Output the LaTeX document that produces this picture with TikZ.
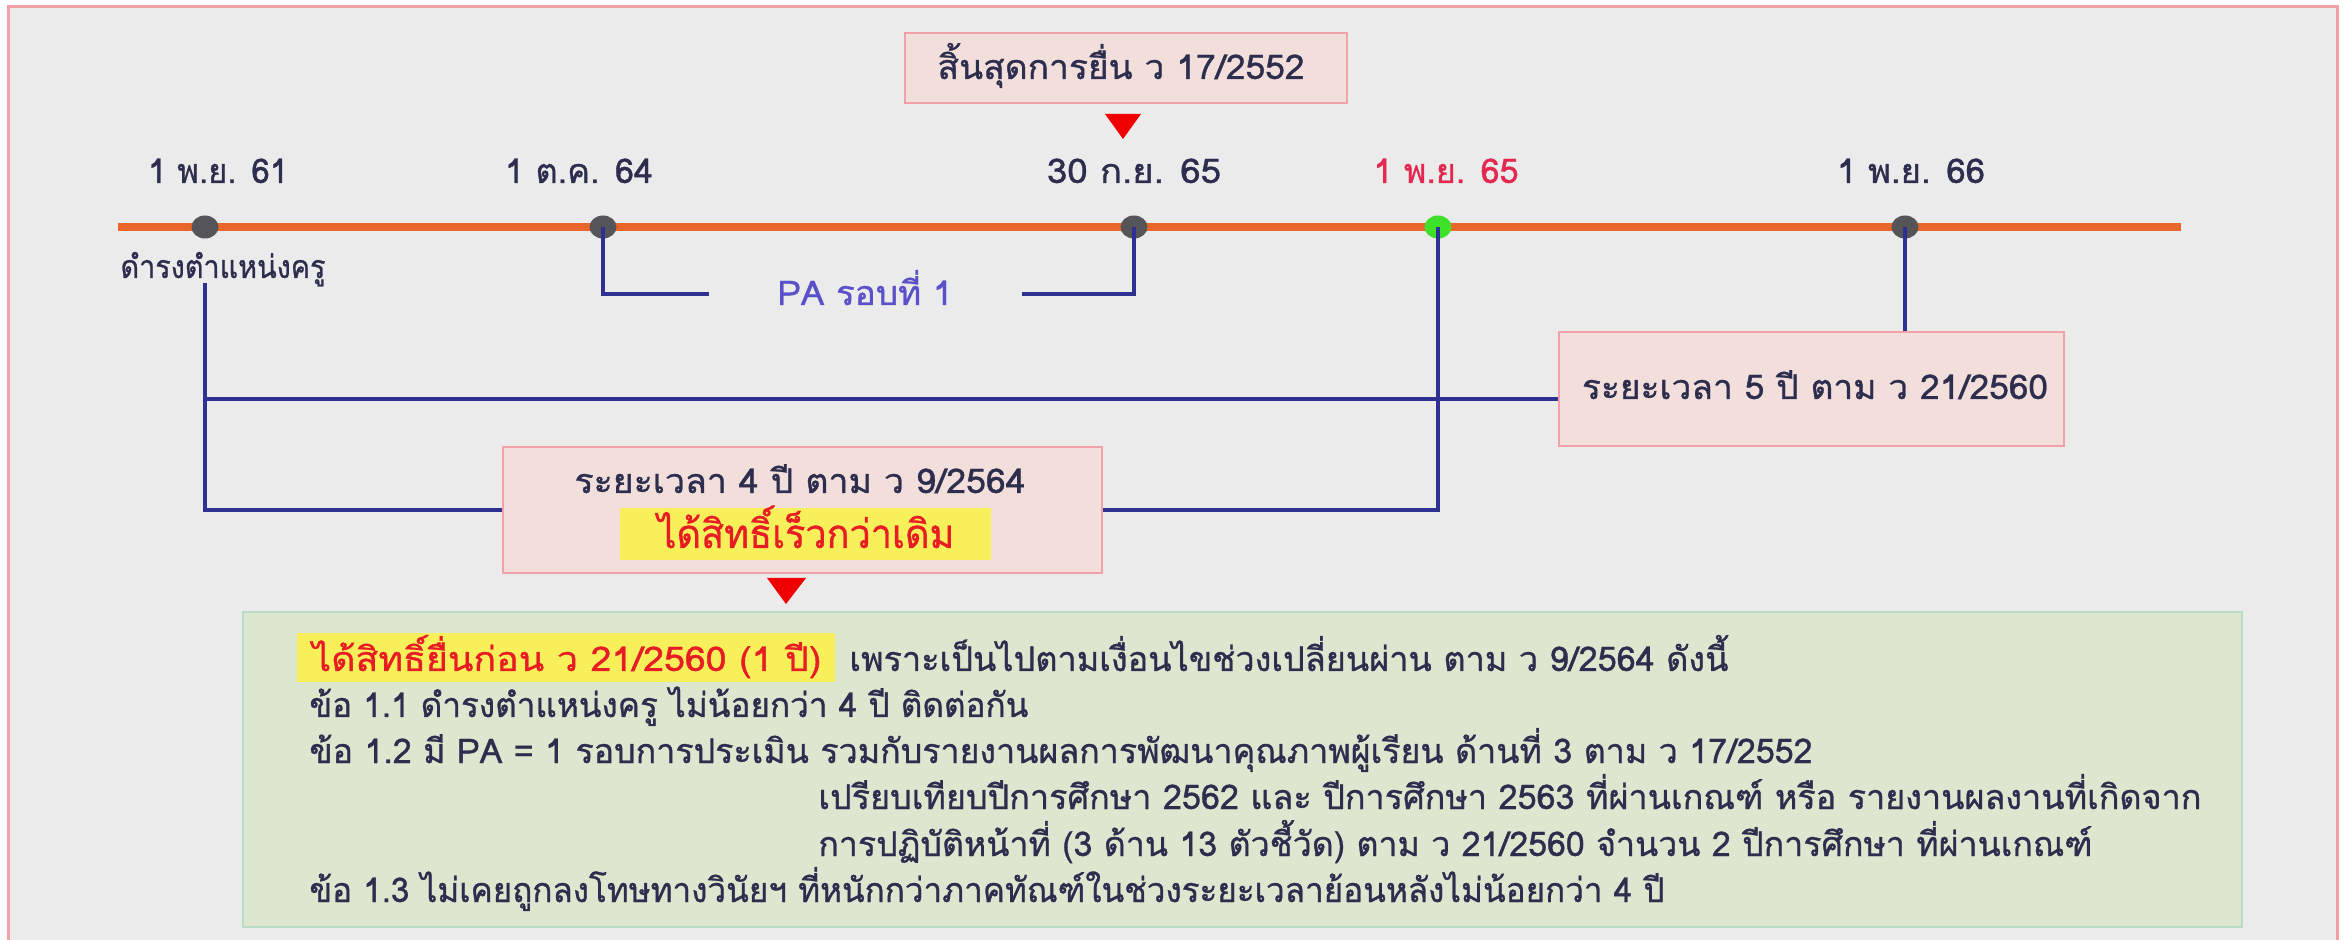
\documentclass[tikz,border=0pt]{standalone}
\usepackage{fontspec}
\usepackage{graphicx}
\usetikzlibrary{shapes.geometric}
\setmainfont[Script=Thai,FakeBold=0.9]{Loma}
\newsavebox\fitbox
\newlength\fitlen
% set #2 at the current font and stretch it horizontally to #1 px (1px = 0.5pt)
\newcommand\fitto[2]{\sbox\fitbox{#2}\setlength\fitlen{\wd\fitbox}\pgfmathsetmacro\fitr{0.5*#1/\fitlen}\scalebox{\fitr}[1]{\usebox\fitbox}}
\definecolor{bggray}{RGB}{235,235,235}
\definecolor{framepink}{RGB}{240,160,166}
\definecolor{pinkfill}{RGB}{242,222,219}
\definecolor{pinkline}{RGB}{240,162,168}
\definecolor{greenfill}{RGB}{221,230,207}
\definecolor{greenline}{RGB}{184,220,200}
\definecolor{txt}{RGB}{45,45,78}
\definecolor{navy}{RGB}{46,49,146}
\definecolor{orangeln}{RGB}{232,102,42}
\definecolor{dotgray}{RGB}{85,85,88}
\definecolor{dotgreen}{RGB}{62,224,42}
\definecolor{redtxt}{RGB}{232,28,36}
\definecolor{datered}{RGB}{228,40,80}
\definecolor{pablue}{RGB}{90,80,200}
\definecolor{hlyellow}{RGB}{248,240,90}
\definecolor{trired}{RGB}{240,0,0}
\begin{document}
\begin{tikzpicture}[x=0.5pt,y=-0.5pt,
  lbl/.style={inner sep=0pt, anchor=base, text=txt, font=\fontsize{17}{20}\selectfont},
  gline/.style={inner sep=0pt, anchor=base west, text=txt, font=\fontsize{17}{20}\selectfont},
  dotnode/.style={ellipse, fill=dotgray, minimum width=13.5pt, minimum height=11.5pt, inner sep=0pt},
  conn/.style={draw=navy, line width=1.75pt},
  pinkbox/.style={draw=pinkline, fill=pinkfill, line width=1pt, inner sep=0pt},
  greenbox/.style={draw=greenline, fill=greenfill, line width=1pt, inner sep=0pt},
  hl/.style={fill=hlyellow, inner sep=0pt},
  tri/.style={fill=trired}
]
\useasboundingbox (0,0) rectangle (2346,940);
% frame
\draw[draw=framepink, line width=1.5pt, fill=bggray] (8,7) rectangle (2337,990);

% boxes
\node[pinkbox, minimum width=221pt, minimum height=35pt] (tb) at (1126,68) {};
\node[pinkbox, minimum width=252.5pt, minimum height=57pt] (b5) at (1811.5,389) {};
\node[pinkbox, minimum width=299.5pt, minimum height=63pt] (b4) at (802.5,510) {};
\node[greenbox, minimum width=999.5pt, minimum height=157.5pt] (gb) at (1242.5,769.5) {};
\node[hl, minimum width=185.5pt, minimum height=26pt] (h4) at (805.5,534) {};
\node[hl, minimum width=269pt, minimum height=24.5pt] (h1) at (566,657.5) {};

% triangles
\fill[tri] (1105,114) -- (1141,114) -- (1123,139) -- cycle;
\fill[tri] (767,578) -- (806,578) -- (786,604) -- cycle;

% timeline
\coordinate (os) at (118,227);
\coordinate (oe) at (2181,227);
\draw[draw=orangeln, line width=4pt] (os) -- (oe);
\node[dotnode] (d1) at (205,227) {};
\node[dotnode] (d2) at (603,227) {};
\node[dotnode] (d3) at (1134,227) {};
\node[dotnode, fill=dotgreen] (d4) at (1438,227) {};
\node[dotnode] (d5) at (1905,227) {};

% texts
\node[lbl] (tt) at (1121,79) {\fitto{367}{สิ้นสุดการยื่น ว 17/2552}};
\node[lbl] (l1) at (218,183) {\fitto{140}{1 พ.ย. 61}};
\node[lbl] (l2) at (579,183) {\fitto{148}{1 ต.ค. 64}};
\node[lbl] (l3) at (1134,183) {\fitto{174}{30 ก.ย. 65}};
\node[lbl, text=datered] (l4) at (1446,183) {\fitto{145}{1 พ.ย. 65}};
\node[lbl] (l5) at (1911,183) {\fitto{148}{1 พ.ย. 66}};
\node[lbl, font=\fontsize{16}{19}\selectfont] (kru) at (223,278) {\fitto{205}{ดำรงตำแหน่งครู}};
\node[lbl, text=pablue] (pa) at (865,305) {\fitto{175}{PA รอบที่ 1}};
\node[lbl] (t5) at (1815,399) {\fitto{466}{ระยะเวลา 5 ปี ตาม ว 21/2560}};
\node[lbl] (t4) at (800,493) {\fitto{451}{ระยะเวลา 4 ปี ตาม ว 9/2564}};
\node[lbl, text=redtxt, font=\fontsize{20}{23}\selectfont] (t4r) at (806,548) {\fitto{297}{ได้สิทธิ์เร็วกว่าเดิม}};

\node[gline, text=redtxt] (g1a) at (312,671) {\fitto{509}{ได้สิทธิ์ยื่นก่อน ว 21/2560 (1 ปี)}};
\node[gline] (g1b) at (849,671) {\fitto{879}{เพราะเป็นไปตามเงื่อนไขช่วงเปลี่ยนผ่าน ตาม ว 9/2564 ดังนี้}};
\node[gline] (g2) at (309,717) {\fitto{719}{ข้อ 1.1 ดำรงตำแหน่งครู ไม่น้อยกว่า 4 ปี ติดต่อกัน}};
\node[gline] (g3) at (309,763) {\fitto{1503}{ข้อ 1.2 มี PA = 1 รอบการประเมิน รวมกับรายงานผลการพัฒนาคุณภาพผู้เรียน ด้านที่ 3 ตาม ว 17/2552}};
\node[gline] (g4) at (818,809) {\fitto{1383}{เปรียบเทียบปีการศึกษา 2562 และ ปีการศึกษา 2563 ที่ผ่านเกณฑ์ หรือ รายงานผลงานที่เกิดจาก}};
\node[gline] (g5) at (818,856) {\fitto{1274}{การปฏิบัติหน้าที่ (3 ด้าน 13 ตัวชี้วัด) ตาม ว 21/2560 จำนวน 2 ปีการศึกษา ที่ผ่านเกณฑ์}};
\node[gline] (g6) at (309,902) {\fitto{1355}{ข้อ 1.3 ไม่เคยถูกลงโทษทางวินัยฯ ที่หนักกว่าภาคทัณฑ์ในช่วงระยะเวลาย้อนหลังไม่น้อยกว่า 4 ปี}};

% connectors
\coordinate (k0) at (205,283);
\coordinate (k5) at (205,399);
\coordinate (paW) at (709,294);
\coordinate (paE) at (1022,294);
\draw[conn] (d2.center) |- (paW);
\draw[conn] (paE) -| (d3.center);
\draw[conn] (k0) |- (b4.west);
\draw[conn] (k5) -- (k5 -| b5.west);
\draw[conn] (d4.center) |- (b4.east);
\draw[conn] (d5.center) -- (d5 |- b5.north);
\end{tikzpicture}
\end{document}
